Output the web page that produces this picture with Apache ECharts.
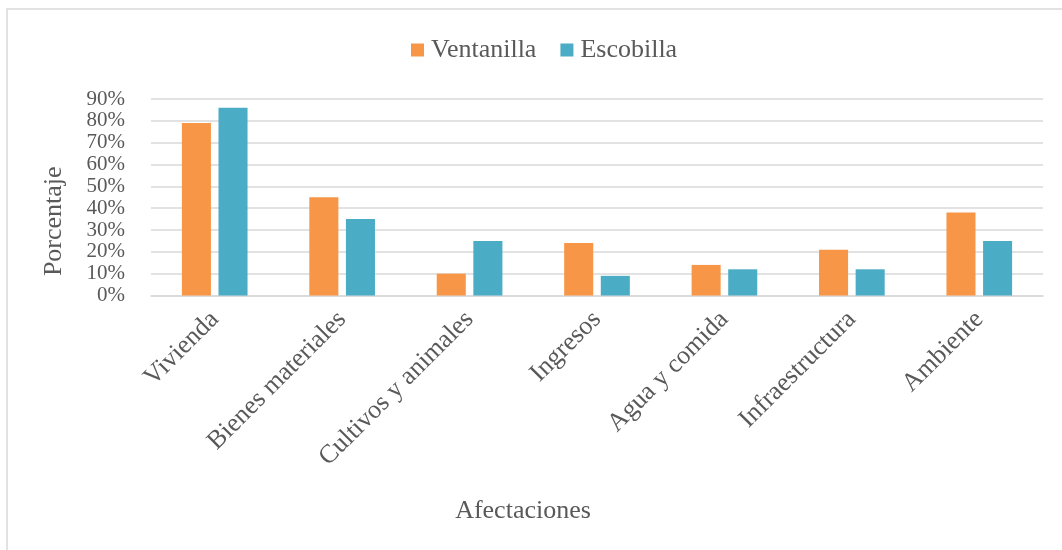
<!DOCTYPE html>
<html>
<head>
<meta charset="utf-8">
<script src="https://cdn.jsdelivr.net/npm/echarts@6/dist/echarts.min.js"></script>
<style>
html,body{margin:0;padding:0;background:#fff;}
#chart{width:1062px;height:550px;}
</style>
</head>
<body>
<div id="chart"></div>
<script>
const categories = ['Vivienda','Bienes materiales','Cultivos y animales','Ingresos','Agua y comida','Infraestructura','Ambiente'];
const ventanilla = [79, 45, 10, 24, 14, 21, 38];
const escobilla = [86, 35, 25, 9, 12, 12, 25];
const seriesNames = ['Ventanilla','Escobilla'];
const xTitle = 'Afectaciones';
const yTitle = 'Porcentaje';

const font = '"Liberation Serif", "Times New Roman", serif';
const txt = '#595959';
const chart = echarts.init(document.getElementById('chart'));
chart.setOption({
  animation: false,
  textStyle: {fontFamily: font, color: txt},
  legend: {
    top: 32, left: 406,
    itemWidth: 13, itemHeight: 13, itemGap: 24,
    icon: 'rect',
    textStyle: {fontFamily: font, fontSize: 26, color: txt, padding: [0,0,0,2]},
    data: seriesNames
  },
  grid: {left: 151, right: 19, top: 99, bottom: 254.5, containLabel: false},
  xAxis: {
    type: 'category', data: categories,
    axisLine: {lineStyle: {color: '#d9d9d9', width: 1.5}},
    axisTick: {show: false},
    axisLabel: {rotate: 45, fontFamily: font, fontSize: 26, color: txt, margin: 20, interval: 0},
    name: xTitle, nameLocation: 'middle', nameGap: 203,
    nameTextStyle: {fontFamily: font, fontSize: 26, color: txt, padding: [0, 148, 0, 0]}
  },
  yAxis: {
    type: 'value', min: 0, max: 90, interval: 10,
    axisLine: {show: false}, axisTick: {show: false},
    axisLabel: {formatter: '{value}%', fontFamily: font, fontSize: 21, color: txt, margin: 26,
      showMinLabel: true, showMaxLabel: true},
    splitLine: {lineStyle: {color: '#d9d9d9', width: 1.5}},
    name: yTitle, nameLocation: 'middle', nameGap: 84, nameRotate: 90,
    nameTextStyle: {fontFamily: font, fontSize: 26, color: txt, padding: [0, 48, 0, 0]}
  },
  series: [
    {name: seriesNames[0], type: 'bar', data: ventanilla, barWidth: '22.8%', barGap: '26%', itemStyle: {color: '#F79646'}},
    {name: seriesNames[1], type: 'bar', data: escobilla, barWidth: '22.8%', barGap: '26%', itemStyle: {color: '#4BACC6'}}
  ],
  graphic: [
    {type: 'rect', shape: {x: 7, y: 9, width: 1200, height: 800}, style: {fill: 'none', stroke: '#d9d9d9', lineWidth: 1.5}, silent: true, z: -1}
  ]
});
</script>
</body>
</html>
